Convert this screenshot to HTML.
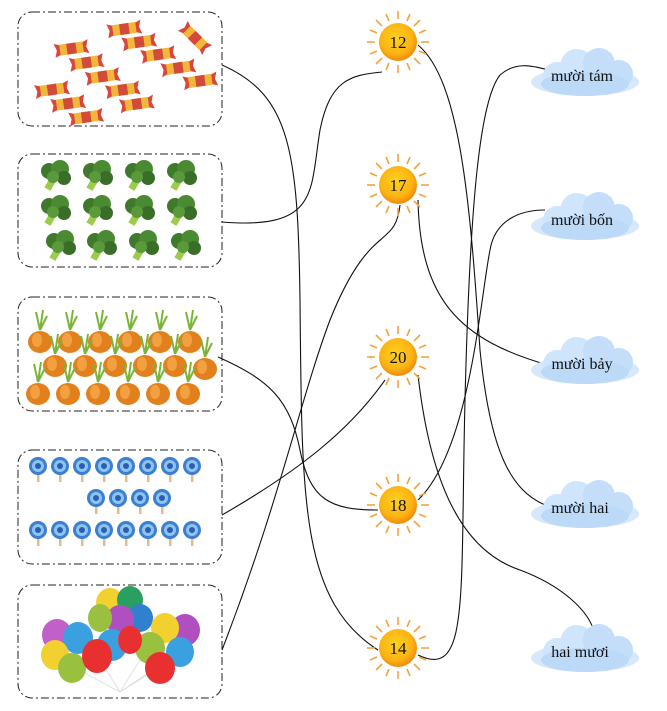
<!DOCTYPE html>
<html><head><meta charset="utf-8"><style>
body{margin:0;background:#fff;}
svg{display:block;}
text{font-family:"Liberation Serif",serif;}
</style></head><body>
<svg width="667" height="711" viewBox="0 0 667 711" xmlns="http://www.w3.org/2000/svg">
<defs>
<radialGradient id="sg" cx="45%" cy="40%" r="60%"><stop offset="0" stop-color="#ffd21a"/><stop offset="0.7" stop-color="#fbb314"/><stop offset="1" stop-color="#f08a0a"/></radialGradient>
<g id="sun">
<g stroke="#f5a340" stroke-width="1.6">
<line x1="0" y1="-23" x2="0" y2="-31"/><line x1="0" y1="23" x2="0" y2="31"/><line x1="-23" y1="0" x2="-31" y2="0"/><line x1="23" y1="0" x2="31" y2="0"/>
<line x1="16" y1="16" x2="22" y2="22"/><line x1="-16" y1="16" x2="-22" y2="22"/><line x1="16" y1="-16" x2="22" y2="-22"/><line x1="-16" y1="-16" x2="-22" y2="-22"/>
<line x1="9" y1="-21" x2="12" y2="-28"/><line x1="-9" y1="-21" x2="-12" y2="-28"/><line x1="9" y1="21" x2="12" y2="28"/><line x1="-9" y1="21" x2="-12" y2="28"/>
<line x1="21" y1="9" x2="28" y2="12"/><line x1="21" y1="-9" x2="28" y2="-12"/><line x1="-21" y1="9" x2="-28" y2="12"/><line x1="-21" y1="-9" x2="-28" y2="-12"/>
</g>
<circle r="19" fill="url(#sg)"/>
</g>
<g id="cloud" fill="#cfe5fb">
<ellipse cx="0" cy="6" rx="54" ry="14" fill="#d6e9fc"/>
<circle cx="-28" cy="0" r="14"/><circle cx="-8" cy="-10" r="17"/><circle cx="14" cy="-12" r="16" fill="#c4def9"/><circle cx="34" cy="-2" r="14" fill="#c4def9"/>
<ellipse cx="0" cy="8" rx="44" ry="12" fill="#bcd9f7"/>
</g>
<g id="candy0"><polygon points="-14,-6 -22,-9 -19,0 -22,9 -14,6" fill="#d9463c"/><polygon points="14,-6 22,-9 19,0 22,9 14,6" fill="#d9463c"/><rect x="-15" y="-7" width="30" height="14" fill="#f2b63a"/><rect x="-6" y="-7" width="12" height="14" fill="#d24a3a"/></g>
<g id="candy"><use href="#candy0" transform="scale(0.78)"/></g>
<g id="broc"><rect x="-3" y="2" width="7" height="14" fill="#9ccc4a" transform="rotate(30)"/><circle cx="-6" cy="-4" r="8" fill="#3f7a2c"/><circle cx="5" cy="-6" r="9" fill="#4a8a32"/><circle cx="9" cy="3" r="7" fill="#3a6e28"/><circle cx="-2" cy="2" r="6" fill="#5a9a3a"/></g>
<g id="onion"><path d="M0,-8 L-4,-26 M0,-8 L3,-28 M0,-8 L7,-22" stroke="#7ab53a" stroke-width="2" fill="none"/><ellipse cx="0" cy="4" rx="12" ry="11" fill="#e3801e"/><ellipse cx="-3" cy="2" rx="5" ry="7" fill="#f2a040"/></g>
<g id="lolly"><rect x="-1" y="0" width="2.5" height="16" fill="#e8b98a"/><circle r="9" fill="#3a7fd0"/><circle r="6" fill="#8fc4f2"/><circle r="3" fill="#2a5fb0"/></g>
</defs>

<g fill="none" stroke="#222" stroke-width="1" stroke-dasharray="8,3,2,3">
<rect x="18" y="12" width="204" height="114" rx="14"/>
<rect x="18" y="154" width="204" height="113" rx="14"/>
<rect x="18" y="297" width="204" height="114" rx="14"/>
<rect x="18" y="450" width="204" height="114" rx="14"/>
<rect x="18" y="585" width="204" height="113" rx="14"/>
</g>

<g transform="rotate(-8 120 70)">
<use href="#candy" x="75" y="42"/><use href="#candy" x="130" y="30"/>
<use href="#candy" x="88" y="58"/><use href="#candy" x="143" y="45"/>
<use href="#candy" x="102" y="74"/><use href="#candy" x="160" y="60"/>
<use href="#candy" x="50" y="80"/><use href="#candy" x="120" y="90"/><use href="#candy" x="178" y="76"/>
<use href="#candy" x="64" y="96"/><use href="#candy" x="132" y="106"/><use href="#candy" x="198" y="92"/>
<use href="#candy" x="80" y="112"/>
</g>
<use href="#candy" transform="translate(195 38) rotate(45)"/>

<use href="#broc" x="55" y="175"/><use href="#broc" x="97" y="175"/><use href="#broc" x="139" y="175"/><use href="#broc" x="181" y="175"/>
<use href="#broc" x="55" y="210"/><use href="#broc" x="97" y="210"/><use href="#broc" x="139" y="210"/><use href="#broc" x="181" y="210"/>
<use href="#broc" x="60" y="245"/><use href="#broc" x="101" y="245"/><use href="#broc" x="143" y="245"/><use href="#broc" x="185" y="245"/>

<use href="#onion" x="40" y="338"/><use href="#onion" x="70" y="338"/><use href="#onion" x="100" y="338"/><use href="#onion" x="130" y="338"/><use href="#onion" x="160" y="338"/><use href="#onion" x="190" y="338"/>
<use href="#onion" x="55" y="362"/><use href="#onion" x="85" y="362"/><use href="#onion" x="115" y="362"/><use href="#onion" x="145" y="362"/><use href="#onion" x="175" y="362"/><use href="#onion" x="205" y="365"/>
<use href="#onion" x="38" y="390"/><use href="#onion" x="68" y="390"/><use href="#onion" x="98" y="390"/><use href="#onion" x="128" y="390"/><use href="#onion" x="158" y="390"/><use href="#onion" x="188" y="390"/>

<use href="#lolly" x="38" y="466"/><use href="#lolly" x="60" y="466"/><use href="#lolly" x="82" y="466"/><use href="#lolly" x="104" y="466"/><use href="#lolly" x="126" y="466"/><use href="#lolly" x="148" y="466"/><use href="#lolly" x="170" y="466"/><use href="#lolly" x="192" y="466"/>
<use href="#lolly" x="96" y="498"/><use href="#lolly" x="118" y="498"/><use href="#lolly" x="140" y="498"/><use href="#lolly" x="162" y="498"/>
<use href="#lolly" x="38" y="530"/><use href="#lolly" x="60" y="530"/><use href="#lolly" x="82" y="530"/><use href="#lolly" x="104" y="530"/><use href="#lolly" x="126" y="530"/><use href="#lolly" x="148" y="530"/><use href="#lolly" x="170" y="530"/><use href="#lolly" x="192" y="530"/>

<g stroke="#ddd" stroke-width="0.8"><line x1="120" y1="692" x2="60" y2="660"/><line x1="120" y1="692" x2="100" y2="660"/><line x1="120" y1="692" x2="140" y2="660"/><line x1="120" y1="692" x2="180" y2="655"/><line x1="120" y1="692" x2="160" y2="665"/></g>
<ellipse cx="110" cy="603" rx="14" ry="15" fill="#f2d030"/><ellipse cx="130" cy="600" rx="13" ry="14" fill="#2aa060"/>
<ellipse cx="57" cy="635" rx="15" ry="16" fill="#c060c8"/><ellipse cx="140" cy="618" rx="13" ry="14" fill="#3080d0"/><ellipse cx="120" cy="620" rx="14" ry="15" fill="#b050c0"/><ellipse cx="100" cy="618" rx="12" ry="14" fill="#9ac040"/>
<ellipse cx="185" cy="630" rx="15" ry="16" fill="#b050c0"/><ellipse cx="165" cy="628" rx="14" ry="15" fill="#f2d030"/>
<ellipse cx="78" cy="638" rx="15" ry="16" fill="#3aa0e0"/><ellipse cx="112" cy="645" rx="15" ry="16" fill="#3aa0e0"/><ellipse cx="150" cy="648" rx="15" ry="16" fill="#9ac040"/><ellipse cx="180" cy="652" rx="14" ry="15" fill="#3aa0e0"/>
<ellipse cx="55" cy="655" rx="14" ry="15" fill="#f2d030"/><ellipse cx="130" cy="640" rx="12" ry="14" fill="#e83030"/>
<ellipse cx="72" cy="668" rx="14" ry="15" fill="#9ac040"/><ellipse cx="97" cy="656" rx="15" ry="17" fill="#e83030"/><ellipse cx="160" cy="668" rx="15" ry="16" fill="#e83030"/>

<g fill="none" stroke="#111" stroke-width="1.1">
<path d="M222,65 C290,95 298,150 300,300 C302,500 300,600 378,650"/>
<path d="M222,222 C320,230 310,190 320,130 C330,80 350,75 382,72"/>
<path d="M218,357 C270,380 290,400 300,450 C310,500 330,510 378,510"/>
<path d="M222,515 C300,470 350,430 385,380"/>
<path d="M222,650 C280,500 300,400 330,320 C370,220 395,250 400,205"/>
<path d="M418,45 C460,80 470,200 480,350 C490,450 510,490 545,505"/>
<path d="M418,200 C420,300 460,340 548,365"/>
<path d="M418,375 C430,480 460,550 520,570 C560,585 590,610 595,635"/>
<path d="M418,500 C470,450 480,300 490,250 C495,220 520,210 545,210"/>
<path d="M418,655 C470,680 460,600 465,400 C470,200 480,100 500,75 C515,62 530,65 548,70"/>
</g>

<use href="#sun" x="398" y="42"/><use href="#sun" x="398" y="185"/><use href="#sun" x="398" y="357"/><use href="#sun" x="398" y="505"/><use href="#sun" x="398" y="648"/>
<g font-size="17" text-anchor="middle" fill="#111">
<text x="398" y="48">12</text><text x="398" y="191">17</text><text x="398" y="363">20</text><text x="398" y="511">18</text><text x="398" y="654">14</text>
</g>

<use href="#cloud" x="585" y="76"/><use href="#cloud" x="585" y="220"/><use href="#cloud" x="585" y="364"/><use href="#cloud" x="585" y="508"/><use href="#cloud" x="585" y="652"/>
<g font-size="16" text-anchor="middle" fill="#111">
<text x="582" y="81">mười tám</text><text x="582" y="225">mười bốn</text><text x="582" y="369">mười bảy</text><text x="580" y="513">mười hai</text><text x="580" y="657">hai mươi</text>
</g>
</svg>
</body></html>
